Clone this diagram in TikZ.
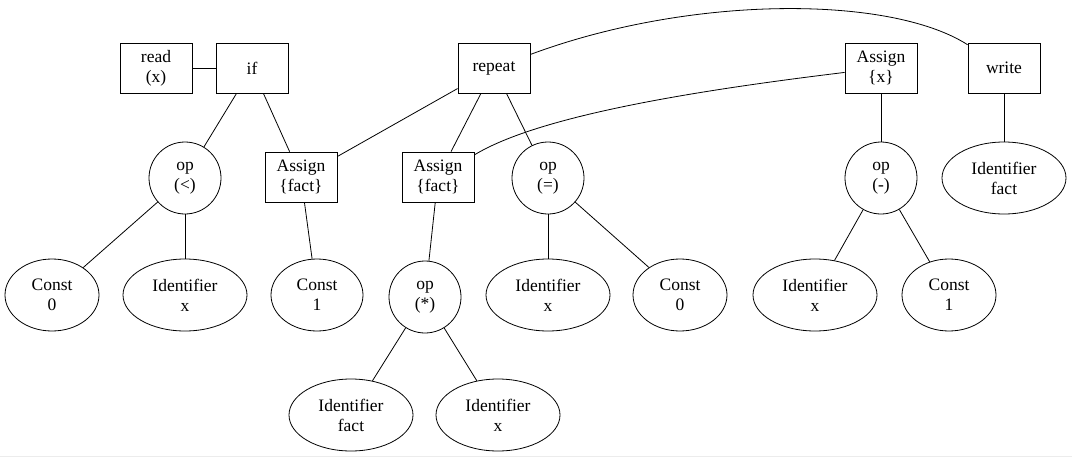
\documentclass[tikz,border=0pt]{standalone}
\usepackage{fontspec}
\setmainfont{Liberation Serif}
\usetikzlibrary{shapes.geometric}
\begin{document}
\begin{tikzpicture}[x=1pt,y=-1pt,
    every node/.style={font=\fontsize{17.5}{20}\selectfont,align=center,inner sep=0pt},
    stmt/.style={draw,rectangle,minimum width=72pt,minimum height=50pt},
    opnode/.style={draw,circle,minimum size=72pt},
    leaf/.style={draw,ellipse,minimum height=72pt},
    line width=0.8pt]
\useasboundingbox (0,0) rectangle (1072,458);
\draw[gray!15] (0,456) -- (1072,456);
%% statements
\node[stmt] (read) at (156,68) {read\\(x)};
\node[stmt] (if) at (252,68) {if};
\node[stmt] (repeat) at (494,68) {repeat};
\node[stmt] (assignx) at (881,68) {Assign\\\{x\}};
\node[stmt] (write) at (1004,68) {write};
%% second row
\node[opnode] (oplt) at (185,178) {op\\(<)};
\node[stmt] (assignfa) at (301,177) {Assign\\\{fact\}};
\node[stmt] (assignfb) at (438,177) {Assign\\\{fact\}};
\node[opnode] (opeq) at (548,178) {op\\(=)};
\node[opnode] (opmin) at (881,178) {op\\(-)};
\node[leaf,minimum width=124pt] (idfw) at (1004,178) {Identifier\\fact};
%% third row
\node[leaf,minimum width=94pt] (cza) at (52,295) {Const\\0};
\node[leaf,minimum width=124pt] (ixa) at (185,295) {Identifier\\x};
\node[leaf,minimum width=92pt] (coa) at (317,295) {Const\\1};
\node[opnode] (opmul) at (425,297) {op\\(*)};
\node[leaf,minimum width=124pt] (ixb) at (548,295) {Identifier\\x};
\node[leaf,minimum width=94pt] (czb) at (680,295) {Const\\0};
\node[leaf,minimum width=124pt] (ixc) at (815,295) {Identifier\\x};
\node[leaf,minimum width=94pt] (cob) at (949,295) {Const\\1};
%% bottom row
\node[leaf,minimum width=124pt] (ifm) at (351,415) {Identifier\\fact};
\node[leaf,minimum width=124pt] (ixm) at (498,415) {Identifier\\x};
%% edges
\draw (read) -- (if);
\draw (if) -- (oplt);
\draw (if) -- (assignfa);
\draw (repeat) -- (assignfa);
\draw (repeat) -- (assignfb);
\draw (repeat) -- (opeq);
\draw (repeat) .. controls (690,-5) and (890,-5) .. (write);
\draw (assignx) .. controls (700,90) and (540,115) .. (assignfb);
\draw (assignx) -- (opmin);
\draw (write) -- (idfw);
\draw (oplt) -- (cza);
\draw (oplt) -- (ixa);
\draw (assignfa) -- (coa);
\draw (assignfb) -- (opmul);
\draw (opeq) -- (ixb);
\draw (opeq) -- (czb);
\draw (opmin) -- (ixc);
\draw (opmin) -- (cob);
\draw (opmul) -- (ifm);
\draw (opmul) -- (ixm);
\end{tikzpicture}
\end{document}
